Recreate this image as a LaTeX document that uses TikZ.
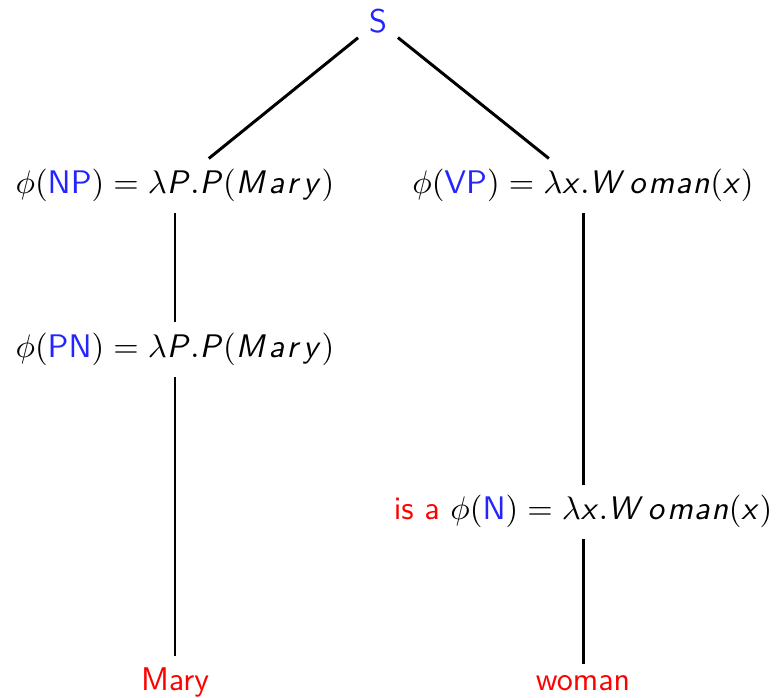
\documentclass[tikz,border=0pt]{standalone}
\usepackage{xcolor}
\usepackage{tikz}
\definecolor{treeBlue}{RGB}{36,36,255}
\definecolor{treeRed}{RGB}{255,0,0}
\DeclareMathAlphabet{\mathsfit}{OT1}{cmss}{m}{sl}
\newcommand{\cat}[1]{\textcolor{treeBlue}{\mathsf{#1}}}
\newcommand{\sv}[1]{\mathsfit{#1}}
\newcommand{\vMary}{\sv{M}\mkern1mu\sv{a}\mkern1mu\sv{r}\mkern1mu\sv{y}}
\newcommand{\vWoman}{\sv{W}\mkern2mu\sv{o}\mkern0.5mu\sv{m}\mkern0.5mu\sv{a}\mkern0.5mu\sv{n}}
\tikzset{
  tlabel/.style={anchor=base, font=\fontsize{11}{13}\selectfont\sffamily, inner sep=3.5pt},
  catnode/.style={tlabel, text=treeBlue},
  wordnode/.style={tlabel, text=treeRed},
  treeedge/.style={draw=black, line width=1pt},
}
\begin{document}
\begin{tikzpicture}[x=0.0118cm, y=-0.0118cm]
  \useasboundingbox (0,0) rectangle (776,698);
  \node[catnode] (s) at (378,33) {S};
  \node[tlabel] (np) at (175,194) {$\phi(\cat{NP}) = \lambda \sv{P}.\sv{P}(\vMary)$};
  \node[tlabel] (vp) at (583,194) {$\phi(\cat{VP}) = \lambda \sv{x}.\vWoman(\sv{x})$};
  \node[tlabel] (pn) at (175,358) {$\phi(\cat{PN}) = \lambda \sv{P}.\sv{P}(\vMary)$};
  \node[tlabel] (n) at (583,520) {\textcolor{treeRed}{is a} $\phi(\cat{N}) = \lambda \sv{x}.\vWoman(\sv{x})$};
  \node[wordnode] (mary) at (175,690) {Mary};
  \node[wordnode] (woman) at (583,690) {woman};

  \draw[treeedge] (s) -- (np);
  \draw[treeedge] (s) -- (vp);
  \draw[treeedge] (np) -- (pn);
  \draw[treeedge] (pn) -- (mary);
  \draw[treeedge] (vp) -- (n);
  \draw[treeedge] (n) -- (woman);
\end{tikzpicture}
\end{document}
